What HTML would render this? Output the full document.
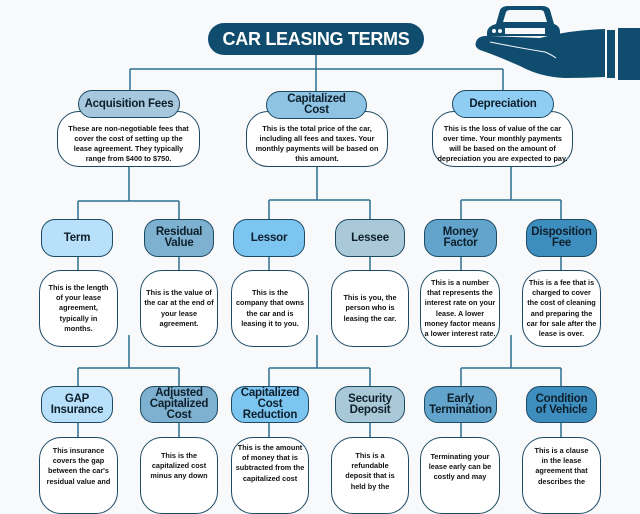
<!DOCTYPE html>
<html><head><meta charset="utf-8"><style>
body{margin:0;width:640px;height:480px;background:#f7f9fb;position:relative;overflow:hidden;font-family:"Liberation Sans",sans-serif;}
.t{position:absolute;left:208px;top:23px;width:216px;height:32px;background:#0f4c6e;border-radius:16px;color:#fff;font-weight:bold;font-size:18px;display:flex;align-items:center;justify-content:center;letter-spacing:-0.3px}
.h{position:absolute;border:1.5px solid #1d4a63;border-radius:14px;display:flex;align-items:center;justify-content:center;text-align:center;font-weight:bold;color:#0d1f2b;font-size:11.5px;line-height:11px;box-sizing:border-box;z-index:2;letter-spacing:-0.2px}
.d{position:absolute;background:#fff;border:1.5px solid #1d4a63;border-radius:22px;display:flex;align-items:center;justify-content:center;text-align:center;font-weight:bold;color:#111;font-size:7.3px;line-height:10.2px;box-sizing:border-box;padding:0 3px;z-index:1}
.l1{padding:10px 8px 0 8px}
svg{position:absolute;left:0;top:0}
</style></head><body>
<svg width="640" height="480">
<g stroke="#2f6f90" stroke-width="1.5" fill="none">
<path d="M316 55V69M130 69H503M130 69V90M316 69V91M503 69V90"/>
<path d="M129 167V201M78 201H179M78 201V219M179 201V219"/>
<path d="M317 167V200M269 200H370M269 200V219M370 200V219"/>
<path d="M511 167V200M461 200H561M461 200V219M561 200V219"/>
<path d="M78 257V270M179 257V270M269 257V270M370 257V270M461 257V270M561 257V270"/>
<path d="M129 335V368M78 368H179M78 368V386M179 368V386"/>
<path d="M317 335V368M269 368H370M269 368V386M370 368V386"/>
<path d="M511 335V368M461 368H561M461 368V386M561 368V386"/>
<path d="M78 423V437M179 423V437M269 423V437M370 423V437M461 423V437M561 423V437"/>
</g>
<g fill="#0f4c6e">
<path d="M496 24 L500 10 Q502 6 508 6 L542 6 Q548 6 550 10 L554 24 Q560 26 560 32 L560 36 L487 36 L487 32 Q488 26 496 24 Z"/>
<path d="M476 42 Q478 35 490 36 L540 38 Q570 30 605 29 L605 77 Q585 78 565 78 Q540 77 520 66 Q495 55 480 50 Q474 47 476 42 Z"/>
<rect x="607" y="30" width="8" height="48"/>
<rect x="618" y="28" width="22" height="52"/>
</g>
<g fill="#f7f9fb">
<path d="M503 22 L506 12 Q507 10 510 10 L540 10 Q543 10 544 12 L547 22 Z"/>
<circle cx="494" cy="31" r="2"/><circle cx="500" cy="31" r="2"/>
<rect x="505" y="28" width="40" height="6"/>
</g>
<path d="M490 42 Q520 48 545 52 Q552 55 556 58" stroke="#f7f9fb" stroke-width="1" fill="none"/>
</svg>
<div class="t">CAR LEASING TERMS</div>

<div class="h" style="left:78px;top:90px;width:102px;height:28px;background:#a7c7dc">Acquisition Fees</div>
<div class="h" style="left:266px;top:91px;width:101px;height:28px;background:#8fc3e3">Capitalized<br>Cost</div>
<div class="h" style="left:452px;top:90px;width:102px;height:28px;background:#8fcdf2">Depreciation</div>
<div class="d l1" style="left:57px;top:111px;width:143px;height:56px">These are non-negotiable fees that cover the cost of setting up the lease agreement. They typically range from $400 to $750.</div>
<div class="d l1" style="left:246px;top:111px;width:142px;height:56px">This is the total price of the car, including all fees and taxes. Your monthly payments will be based on this amount.</div>
<div class="d l1" style="left:432px;top:111px;width:141px;height:56px;padding-left:4px;padding-right:4px">This is the loss of value of the car over time. Your monthly payments will be based on the amount of depreciation you are expected to pay.</div>

<div class="h" style="left:41px;top:219px;width:72px;height:38px;background:#b8e0fa">Term</div>
<div class="h" style="left:144px;top:219px;width:70px;height:38px;background:#7eb0cf">Residual<br>Value</div>
<div class="h" style="left:233px;top:219px;width:72px;height:38px;background:#7cc5f0">Lessor</div>
<div class="h" style="left:335px;top:219px;width:70px;height:38px;background:#a9c9d8">Lessee</div>
<div class="h" style="left:424px;top:219px;width:73px;height:38px;background:#62a4cc">Money<br>Factor</div>
<div class="h" style="left:526px;top:219px;width:71px;height:38px;background:#3e8dbf">Disposition<br>Fee</div>
<div class="d" style="left:39px;top:270px;width:79px;height:77px;padding:0 6px">This is the length of your lease agreement, typically in months.</div>
<div class="d" style="left:140px;top:270px;width:78px;height:77px">This is the value of the car at the end of your lease agreement.</div>
<div class="d" style="left:231px;top:270px;width:78px;height:77px">This is the company that owns the car and is leasing it to you.</div>
<div class="d" style="left:331px;top:270px;width:78px;height:77px;padding:0 7px">This is you, the person who is leasing the car.</div>
<div class="d" style="left:420px;top:270px;width:80px;height:77px">This is a number that represents the interest rate on your lease. A lower money factor means a lower interest rate.</div>
<div class="d" style="left:522px;top:270px;width:79px;height:77px">This is a fee that is charged to cover the cost of cleaning and preparing the car for sale after the lease is over.</div>

<div class="h" style="left:41px;top:386px;width:72px;height:37px;background:#b8e0fa">GAP<br>Insurance</div>
<div class="h" style="left:140px;top:386px;width:78px;height:37px;background:#7eb0cf">Adjusted<br>Capitalized<br>Cost</div>
<div class="h" style="left:231px;top:386px;width:78px;height:37px;background:#7cc5f0">Capitalized<br>Cost<br>Reduction</div>
<div class="h" style="left:335px;top:386px;width:70px;height:37px;background:#a9c9d8">Security<br>Deposit</div>
<div class="h" style="left:424px;top:386px;width:73px;height:37px;background:#62a4cc">Early<br>Termination</div>
<div class="h" style="left:526px;top:386px;width:71px;height:37px;background:#3e8dbf">Condition<br>of Vehicle</div>
<div class="d" style="left:39px;top:437px;width:79px;height:77px;align-items:flex-start;padding:8px 6px 0">This insurance covers the gap between the car's residual value and</div>
<div class="d" style="left:140px;top:437px;width:78px;height:77px;align-items:flex-start;padding:13px 8px 0">This is the capitalized cost minus any down</div>
<div class="d" style="left:231px;top:437px;width:78px;height:77px;align-items:flex-start;padding-top:5px">This is the amount of money that is subtracted from the capitalized cost</div>
<div class="d" style="left:331px;top:437px;width:78px;height:77px;align-items:flex-start;padding:13px 6px 0">This is a refundable deposit that is held by the</div>
<div class="d" style="left:420px;top:437px;width:80px;height:77px;align-items:flex-start;padding:14px 6px 0">Terminating your lease early can be costly and may</div>
<div class="d" style="left:522px;top:437px;width:79px;height:77px;align-items:flex-start;padding:8px 8px 0">This is a clause in the lease agreement that describes the</div>
</body></html>
